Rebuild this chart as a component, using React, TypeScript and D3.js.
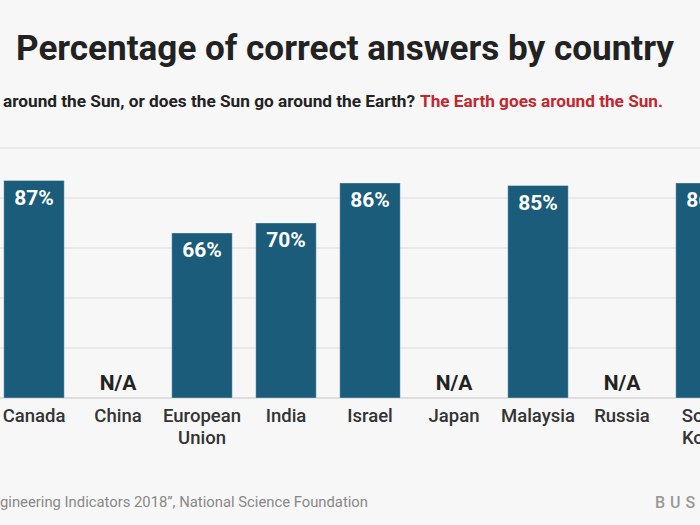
import React from "react";
import * as d3 from "d3";

const categories = ["Canada", "China", "European Union", "India", "Israel", "Japan", "Malaysia", "Russia", "South Korea"];
const categoryLines = [["Canada"], ["China"], ["European", "Union"], ["India"], ["Israel"], ["Japan"], ["Malaysia"], ["Russia"], ["South", "Korea"]];
const values: (number | null)[] = [87, null, 66, 70, 86, null, 85, null, 86];
const yTicks = [0, 20, 40, 60, 80, 100];

const W = 700;
const H = 525;
const FONT = "Roboto, 'Noto Sans', sans-serif";

export default function App() {
  const x = d3.scaleBand<string>().domain(categories).range([-8, 748]).paddingInner(0.28).paddingOuter(0.14);
  const y = d3.scaleLinear().domain([0, 100]).range([398, 148]);
  const bw = x.bandwidth();

  return (
    <svg width={W} height={H} style={{ position: "absolute", left: 0, top: 0 }} fontFamily={FONT}>
      <rect x={0} y={0} width={W} height={H} fill="#f7f7f7" />
      <text x={16} y={60} fontSize={35} fontWeight={700} fill="#222" textLength={658} lengthAdjust="spacingAndGlyphs">
        Percentage of correct answers by country
      </text>
      <text x={-4} y={107} fontSize={16.5} fontWeight={700} fill="#222" textAnchor="end">Does the Earth go</text>
      <text x={3} y={107} fontSize={16.5} fontWeight={700} fill="#222" textLength={412} lengthAdjust="spacingAndGlyphs">
        around the Sun, or does the Sun go around the Earth?
      </text>
      <text x={420} y={107} fontSize={16.5} fontWeight={700} fill="#c4262e" textLength={243} lengthAdjust="spacingAndGlyphs">
        The Earth goes around the Sun.
      </text>
      {yTicks.slice(1).map((t) => (
        <line key={t} x1={0} x2={W} y1={y(t)} y2={y(t)} stroke="#e4e4e4" strokeWidth={1.5} />
      ))}
      <line x1={0} x2={W} y1={y(0)} y2={y(0)} stroke="#d4d4d4" strokeWidth={1.5} />
      {categories.map((c, i) => {
        const v = values[i];
        const x0 = x(c)!;
        const cx = x0 + bw / 2;
        return (
          <g key={c}>
            {v !== null ? (
              <>
                <rect x={x0} y={y(v)} width={bw} height={y(0) - y(v)} fill="#1a5c79" stroke="rgba(255,255,255,0.35)" strokeWidth={1} />
                <text x={cx} y={y(v) + 24} textAnchor="middle" fontSize={21} fontWeight={700} fill="#fff">
                  {v}%
                </text>
              </>
            ) : (
              <text x={cx} y={390} textAnchor="middle" fontSize={21} fontWeight={700} fill="#222">
                N/A
              </text>
            )}
            {categoryLines[i].map((l, j) => (
              <text key={j} x={cx} y={422 + j * 22} textAnchor="middle" fontSize={18.5} fontWeight={500} fill="#333">
                {l}
              </text>
            ))}
          </g>
        );
      })}
      <text x={-2} y={507} fontSize={15} fill="#888" textAnchor="end">Source: “Science and En</text>
      <text x={0} y={507} fontSize={15} fill="#888" textLength={368} lengthAdjust="spacingAndGlyphs">
        gineering Indicators 2018”, National Science Foundation
      </text>
      <text x={655} y={508} fontSize={16} fontWeight={500} fill="#999" letterSpacing={5}>
        BUSINESS INSIDER
      </text>
    </svg>
  );
}
